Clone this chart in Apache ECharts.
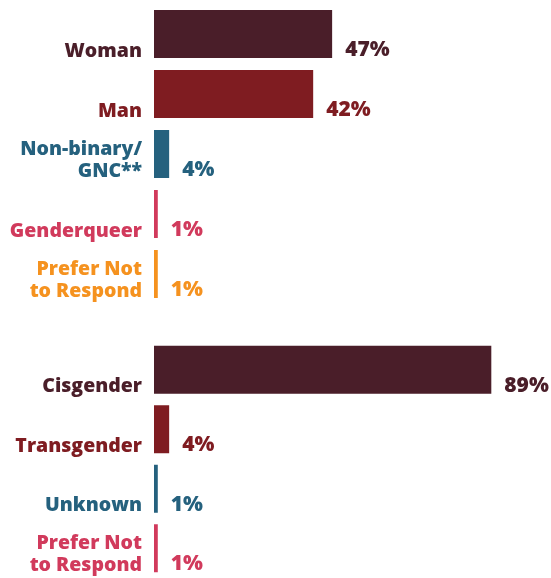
<!DOCTYPE html>
<html lang="en">
<head>
    <meta charset="utf-8" />
    <title>Gender identity</title>
    <script type="text/javascript" src="https://cdn.jsdelivr.net/npm/echarts@6/dist/echarts.min.js"></script>
    <style>
        html, body { margin: 0; padding: 0; background: #fff; }
        #chart { width: 551px; height: 578px; }
    </style>
</head>
<body>
    <div id="chart"></div>
    <script type="text/javascript">
        // gender group
        const genderCats = ['Woman', 'Man', 'Non-binary/\nGNC**', 'Genderqueer', 'Prefer Not\nto Respond'];
        const genderValues = [47, 42, 4, 1, 1];
        const genderColors = ['#4a1e29', '#7f1c21', '#25617e', '#d13a5c', '#f5921f'];

        // cis / trans group
        const cisCats = ['Cisgender', 'Transgender', 'Unknown', 'Prefer Not\nto Respond'];
        const cisValues = [89, 4, 1, 1];
        const cisColors = ['#4a1e29', '#7f1c21', '#25617e', '#d13a5c'];

        const FONT = '"Open Sans", "Noto Sans", sans-serif';
        var chart = echarts.init(document.getElementById('chart'));

        function makeRich(colors) {
            let rich = {
                sp1: { height: 34, lineHeight: 34, fontSize: 1 },
                sp2: { height: 12, lineHeight: 12, fontSize: 1 }
            };
            colors.forEach(function (c, i) {
                rich['c' + i] = {
                    color: c, fontFamily: FONT, fontWeight: 800,
                    fontSize: 19.5, lineHeight: 22, align: 'right'
                };
            });
            return rich;
        }

        function catLabel(value, index) {
            let lines = value.split('\n');
            let out = '{sp' + lines.length + '| }';
            lines.forEach(function (l) { out += '\n{c' + index + '|' + l + '}'; });
            return out;
        }

        function makeYAxis(cats, colors, gridIndex) {
            return {
                type: 'category', gridIndex: gridIndex, data: cats, inverse: true,
                axisLine: { show: false }, axisTick: { show: false },
                axisLabel: { margin: 12, align: 'right', formatter: catLabel, rich: makeRich(colors) }
            };
        }

        function makeSeries(values, colors, idx) {
            return {
                type: 'bar', xAxisIndex: idx, yAxisIndex: idx, barWidth: 48,
                data: values.map(function (v, i) {
                    return {
                        value: v,
                        itemStyle: { color: colors[i] },
                        label: { color: colors[i] }
                    };
                }),
                label: {
                    show: true, position: 'right', distance: 13, offset: [0, 16],
                    formatter: '{c}%', fontFamily: FONT, fontWeight: 800, fontSize: 21
                },
                silent: true
            };
        }

        chart.setOption({
            animation: false,
            grid: [
                { left: 154, top: 4, height: 300, width: 379 },
                { left: 154, top: 340, height: 240, width: 379 }
            ],
            xAxis: [
                { type: 'value', gridIndex: 0, min: 0, max: 100, show: false },
                { type: 'value', gridIndex: 1, min: 0, max: 100, show: false }
            ],
            yAxis: [
                makeYAxis(genderCats, genderColors, 0),
                makeYAxis(cisCats, cisColors, 1)
            ],
            series: [
                makeSeries(genderValues, genderColors, 0),
                makeSeries(cisValues, cisColors, 1)
            ]
        });
    </script>
</body>
</html>
